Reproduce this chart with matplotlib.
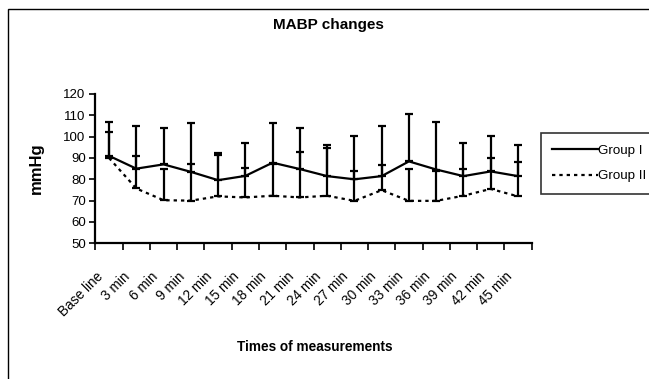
import matplotlib
matplotlib.use("Agg")
import matplotlib.pyplot as plt
from matplotlib.patches import Rectangle
from matplotlib.lines import Line2D
from matplotlib.transforms import ScaledTranslation
import numpy as np

plt.rcParams['font.family'] = ['Liberation Sans', 'DejaVu Sans']

categories = ["Base line", "3 min", "6 min", "9 min", "12 min", "15 min", "18 min", "21 min",
              "24 min", "27 min", "30 min", "33 min", "36 min", "39 min", "42 min", "45 min"]
group1 = [91, 85, 87, 83.5, 79.6, 81.6, 87.8, 84.8, 81.5, 80, 81.5, 88.4, 84.6, 81.5, 83.7, 81.5]
group1_err = [15.7, 20, 17.2, 22.7, 12.8, 15.5, 18.4, 19.4, 14.6, 20.3, 23.5, 22.2, 22.1, 15.3, 16.6, 14.6]
group2 = [90, 75.7, 70.2, 70, 72, 71.5, 72.3, 71.5, 72.3, 69.9, 74.9, 69.9, 69.9, 72.3, 75.5, 72]
group2_err = [12.3, 15, 14.6, 17, 19.4, 13.6, 15, 21.3, 22.5, 13.8, 11.9, 14.9, 13.9, 12.7, 14.7, 16.3]
yticks = [50, 60, 70, 80, 90, 100, 110, 120]

W, H = 649, 379
fig = plt.figure(figsize=(W / 100, H / 100), dpi=100)
fig.patch.set_facecolor('white')

# chart area border (cut off at right and bottom)
fig.patches.append(Rectangle((8 / W, -0.1), 1.2, 1 - 9 / H + 0.1, transform=fig.transFigure,
                             fill=False, edgecolor='black', linewidth=1.0))

ax = fig.add_axes([95.4 / W, 1 - 243.3 / H, 436.2 / W, 149.3 / H])
x = np.arange(len(categories))

ax.errorbar(x, group1, yerr=[np.zeros(len(x)), group1_err], color='black', linewidth=1.6,
            elinewidth=1.6, capsize=2.6, capthick=1.6, label='Group I')
ax.errorbar(x, group2, yerr=[np.zeros(len(x)), group2_err], color='black', linewidth=1.6,
            linestyle=(0, (1.5, 1.8)), elinewidth=1.6, capsize=2.6, capthick=1.6, label='Group II')

ax.set_xlim(-0.5, len(categories) - 0.5)
ax.set_ylim(50, 120)
ax.set_yticks(yticks)
ax.tick_params(axis='y', direction='out', length=4, width=1.2, labelsize=9.5, pad=3)
ax.set_xticks(x)
ax.set_xticklabels(categories, rotation=45, ha='right', rotation_mode='anchor', fontsize=9.8)
ax.tick_params(axis='x', which='major', length=0, pad=19)
off = ScaledTranslation(-13 / 100, 0, fig.dpi_scale_trans)
for lab in ax.get_xticklabels():
    lab.set_transform(lab.get_transform() + off)
ax.set_xticks(np.arange(-0.5, len(categories) + 0.5, 1), minor=True)
ax.tick_params(axis='x', which='minor', direction='out', length=5, width=1.2)

for s in ['top', 'right']:
    ax.spines[s].set_visible(False)
for s in ['left', 'bottom']:
    ax.spines[s].set_linewidth(1.6)

fig.text(328 / W, 1 - 25 / H, "MABP changes", ha='center', va='center', fontsize=11, fontweight='bold')
fig.text(36 / W, 1 - 168 / H, "mmHg", ha='center', va='center', rotation=90, fontsize=12, fontweight='bold')
fig.text(315 / W, 1 - 347 / H, "Times of measurements", ha='center', va='center', fontsize=9.8, fontweight='bold')

handles = [Line2D([], [], color='black', linewidth=1.6),
           Line2D([], [], color='black', linewidth=1.6, linestyle=(0, (1.5, 1.8)))]
leg = fig.legend(handles, ['Group I', 'Group II'], loc='upper left',
                 bbox_to_anchor=(541 / W, 1 - 133 / H), fontsize=9.6, frameon=True,
                 fancybox=False, edgecolor='black', handlelength=3.4, handletextpad=0.0,
                 borderpad=0.85, labelspacing=1.0, borderaxespad=0)
leg.get_frame().set_linewidth(1.2)

fig.savefig("out.png", dpi=100, facecolor='white')
